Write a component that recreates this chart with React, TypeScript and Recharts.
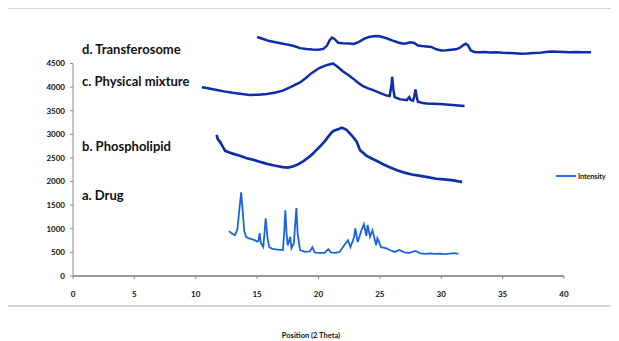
import React from "react";
import { LineChart, Line, XAxis, YAxis, ReferenceLine } from "recharts";

// [2θ, intensity]
const drugPoints: number[][] = [
  [12.7, 950], [13.0, 890], [13.2, 865], [13.4, 1000], [13.55, 1400], [13.7, 1770], [13.85, 1300], [13.95, 950],
  [14.1, 830], [14.3, 800], [14.6, 775], [14.8, 760], [15.0, 730], [15.1, 740], [15.2, 910], [15.3, 700],
  [15.5, 615], [15.6, 900], [15.7, 1220], [15.85, 800], [16.0, 610], [16.2, 580], [16.4, 570], [16.7, 560],
  [17.1, 550], [17.2, 900], [17.3, 1390], [17.4, 900], [17.5, 650], [17.7, 830], [17.8, 590], [18.0, 700],
  [18.1, 1100], [18.2, 1440], [18.3, 900], [18.5, 550], [18.9, 510], [19.3, 520], [19.5, 610], [19.7, 495],
  [20.1, 490], [20.5, 490], [20.8, 570], [21.0, 500], [21.3, 490], [21.7, 505], [22.1, 650], [22.4, 760],
  [22.6, 610], [22.9, 820], [23.0, 1010], [23.1, 860], [23.2, 720], [23.5, 970], [23.7, 1100], [23.9, 850],
  [24.0, 1080], [24.2, 830], [24.4, 970], [24.7, 650], [24.8, 800], [25.1, 610], [25.5, 590], [25.8, 550],
  [26.2, 510], [26.6, 550], [27.0, 500], [27.4, 490], [27.9, 530], [28.3, 480], [28.7, 470], [29.1, 480],
  [29.5, 470], [29.9, 475], [30.3, 465], [30.7, 475], [31.1, 485], [31.4, 470],
];

const phospholipidPoints: number[][] = [
  [11.7, 2990], [11.8, 2900], [12.0, 2830], [12.2, 2740], [12.4, 2650], [12.8, 2610], [13.2, 2575], [13.6, 2545],
  [14.1, 2500], [14.7, 2460], [15.2, 2420], [15.8, 2375], [16.4, 2340], [17.1, 2305], [17.5, 2295], [17.9, 2320],
  [18.3, 2360], [18.7, 2420], [19.1, 2495], [19.5, 2580], [19.8, 2660], [20.1, 2735], [20.5, 2850], [20.8, 2950],
  [21.1, 3050], [21.3, 3080], [21.6, 3110], [21.9, 3140], [22.1, 3120], [22.3, 3090], [22.7, 2980], [23.1, 2850],
  [23.4, 2660], [23.9, 2550], [24.3, 2495], [24.8, 2430], [25.3, 2360], [25.8, 2305], [26.4, 2240], [27.0, 2190],
  [27.6, 2150], [28.3, 2120], [29.0, 2090], [29.6, 2060], [30.2, 2045], [30.8, 2030], [31.1, 2018], [31.4, 2005],
  [31.7, 1995],
];

const mixturePoints: number[][] = [
  [10.5, 3995], [11.0, 3975], [11.7, 3940], [12.3, 3910], [13.0, 3880], [13.6, 3860], [14.4, 3835], [15.1, 3840],
  [15.8, 3855], [16.5, 3885], [17.1, 3925], [17.8, 4010], [18.5, 4100], [19.0, 4200], [19.4, 4290], [20.1, 4410],
  [20.6, 4460], [21.0, 4490], [21.2, 4500], [21.6, 4420], [22.0, 4330], [22.4, 4260], [22.8, 4185], [23.2, 4100],
  [23.6, 4025], [24.0, 3980], [24.4, 3940], [24.8, 3900], [25.2, 3855], [25.5, 3825], [25.8, 3810], [25.95, 4050],
  [26.0, 4220], [26.1, 3950], [26.2, 3790], [26.6, 3745], [27.0, 3730], [27.2, 3725], [27.3, 3760], [27.4, 3790],
  [27.5, 3730], [27.7, 3710], [27.8, 3800], [27.9, 3950], [28.0, 3800], [28.1, 3690], [28.5, 3665], [28.8, 3655],
  [29.3, 3650], [29.9, 3640], [30.4, 3630], [30.9, 3620], [31.4, 3610], [31.9, 3600],
];

const transferosomePoints: number[][] = [
  [15.0, 5060], [15.5, 5020], [16.0, 4975], [16.5, 4950], [17.0, 4925], [17.5, 4900], [18.0, 4870], [18.5, 4825],
  [19.0, 4805], [19.5, 4795], [20.0, 4790], [20.4, 4810], [20.7, 4880], [20.9, 4990], [21.1, 5050], [21.3, 5020],
  [21.6, 4940], [22.0, 4930], [22.5, 4925], [22.9, 4915], [23.3, 4960], [23.7, 5020], [24.1, 5060], [24.5, 5075],
  [24.9, 5080], [25.2, 5060], [25.6, 5030], [26.0, 4990], [26.5, 4945], [26.9, 4920], [27.2, 4930], [27.5, 4950],
  [27.8, 4935], [28.1, 4880], [28.4, 4870], [28.8, 4860], [29.2, 4850], [29.6, 4800], [30.0, 4775], [30.4, 4780],
  [30.8, 4790], [31.2, 4800], [31.5, 4830], [31.8, 4890], [32.0, 4920], [32.2, 4880], [32.4, 4780], [32.7, 4745],
  [33.0, 4740], [33.5, 4745], [34.0, 4735], [34.5, 4740], [35.0, 4730], [35.5, 4725], [36.0, 4715], [36.5, 4705],
  [37.0, 4710], [37.5, 4720], [38.0, 4725], [38.5, 4745], [39.0, 4755], [39.5, 4750], [40.0, 4745], [40.5, 4740],
  [41.0, 4742], [41.5, 4738], [42.2, 4740],
];

const xTicks = [0, 5, 10, 15, 20, 25, 30, 35, 40];
const yTicks = [0, 500, 1000, 1500, 2000, 2500, 3000, 3500, 4000, 4500];
const sampleLabels = ["d. Transferosome", "c. Physical mixture", "b. Phospholipid", "a. Drug"];
const xTitle = "Position (2 Theta)";
const legendName = "Intensity";

const toRows = (pts: number[][]) => pts.map(([x, y]) => ({ x, y }));

const tickStyle = { fontFamily: "Lato, 'Open Sans', sans-serif", fontSize: 8, fontWeight: 700, fill: "#111" };
const annStyle: React.CSSProperties = {
  position: "absolute",
  left: 74,
  fontFamily: "Lato, 'Open Sans', sans-serif",
  fontWeight: 700,
  fontSize: 13,
  lineHeight: "13px",
  color: "#111",
  whiteSpace: "nowrap",
};
const annTops = [34.5, 67, 131.5, 180.5];

const DARK = "#0d2ea8";
const LIGHT = "#1865e0";

export default function App() {
  return (
    <div style={{ position: "relative", width: 611, height: 333, background: "#fff" }}>
      <div style={{ position: "absolute", left: -1, top: 0, width: 612, height: 1, background: "#d2d2d2", zIndex: 2 }} />
      <div style={{ position: "absolute", left: -1, top: 0, width: 1, height: 299, background: "#d2d2d2", zIndex: 2 }} />
      <div style={{ position: "absolute", left: -1, top: 297, width: 612, height: 2, background: "#d6d6d6", zIndex: 2 }} />
      <div style={{ position: "absolute", left: 0, top: 0 }}>
        <LineChart width={611} height={333} margin={{ top: 8.28, right: 18.2, bottom: 0, left: 5 }}>
          <XAxis
            dataKey="x"
            type="number"
            domain={[0, 43]}
            ticks={xTicks}
            axisLine={false}
            tickLine={{ stroke: "#888" }}
            tickSize={3}
            tickMargin={12}
            tick={tickStyle}
            height={65}
            interval={0}
          />
          <YAxis
            type="number"
            domain={[0, 5500]}
            ticks={yTicks}
            axisLine={false}
            tickLine={{ stroke: "#888" }}
            tickSize={3}
            tickMargin={5}
            tick={tickStyle}
            width={60}
            interval={0}
          />
          <ReferenceLine segment={[{ x: 0, y: 0 }, { x: 0, y: 4500 }]} stroke="#8a8a8a" strokeWidth={1} />
          <ReferenceLine segment={[{ x: 0, y: 0 }, { x: 40, y: 0 }]} stroke="#777" strokeWidth={1.3} />
          <Line data={toRows(transferosomePoints)} dataKey="y" type="linear" stroke={DARK} strokeWidth={2.5} dot={false} isAnimationActive={false} />
          <Line data={toRows(mixturePoints)} dataKey="y" type="linear" stroke={DARK} strokeWidth={2.5} dot={false} isAnimationActive={false} />
          <Line data={toRows(phospholipidPoints)} dataKey="y" type="linear" stroke={DARK} strokeWidth={2.7} dot={false} isAnimationActive={false} />
          <Line data={toRows(drugPoints)} dataKey="y" type="linear" stroke={LIGHT} strokeWidth={1.8} dot={false} isAnimationActive={false} />
        </LineChart>
      </div>
      {sampleLabels.map((t, i) => (
        <div key={t} style={{ ...annStyle, top: annTops[i] }}>{t}</div>
      ))}
      <div style={{ position: "absolute", left: 548, top: 167, width: 20, height: 2, background: "#2a6fe0" }} />
      <div
        style={{
          position: "absolute",
          left: 570,
          top: 164,
          fontFamily: "Lato, 'Open Sans', sans-serif",
          fontSize: 7.5,
          fontWeight: 700,
          color: "#222",
          letterSpacing: -0.2,
        }}
      >
        {legendName}
      </div>
      <div
        style={{
          position: "absolute",
          left: 0,
          width: 606,
          top: 323,
          textAlign: "center",
          fontFamily: "Lato, 'Open Sans', sans-serif",
          fontSize: 7.5,
          fontWeight: 700,
          color: "#111",
        }}
      >
        {xTitle}
      </div>
    </div>
  );
}
